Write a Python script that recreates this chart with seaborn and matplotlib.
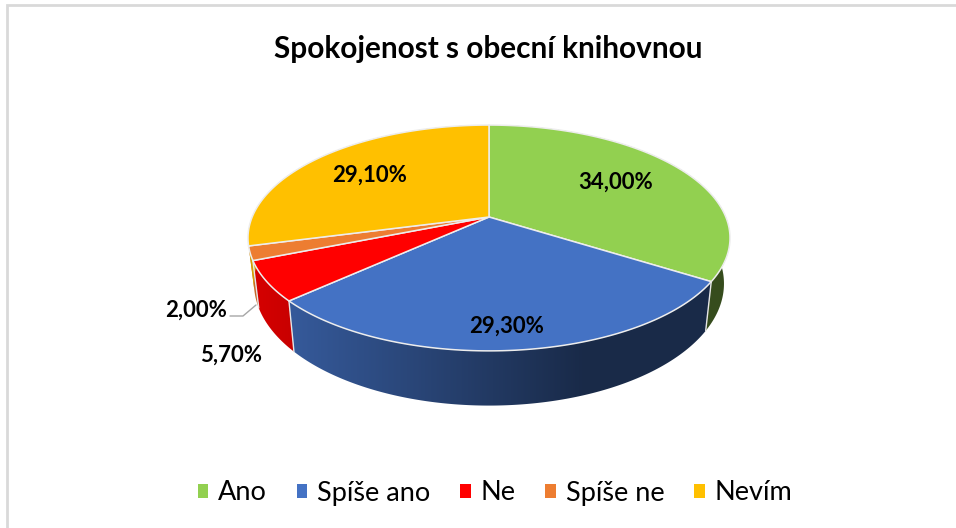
import numpy as np
import seaborn as sns
from matplotlib import pyplot as plt
from matplotlib.patches import Patch, Polygon

categories = ['Ano', 'Spíše ano', 'Ne', 'Spíše ne', 'Nevím']
values = [34.0, 29.3, 5.7, 2.0, 29.1]
value_labels = ['34,00%', '29,30%', '5,70%', '2,00%', '29,10%']
colors = ['#92D050', '#4472C4', '#FF0000', '#ED7D31', '#FFC000']

sns.set_theme(style='white')
plt.rcParams['font.family'] = ['Lato', 'DejaVu Sans']
palette = sns.color_palette(colors)

# pixel coordinates, it is easier to compare with the reference
fig = plt.figure(figsize=(9.56, 5.28), dpi=100)
ax = fig.add_axes([0, 0, 1, 1])
ax.axis('off')

# chart frame (only left and top are visible)
ax.plot([7, 7, 956], [528, 5, 5], color='#D9D9D9', lw=2, solid_joinstyle='miter')

# tilted disc : perspective projection of the unit circle
cx, cy = 489, 217
sx, sy, k = 236.8, 109, -0.1858


def top_xy(theta):
    u, v = np.sin(theta), np.cos(theta)
    d = 1 - k * v
    return sx * u / d, sy * v / d


def rim_xy(theta):
    x, y = top_xy(theta)
    return 0.975 * x, 1.08 * y - 44


def shade(x):
    return np.clip(0.84 - 0.47 * (x + 235) / 330, 0.37, 0.84)


edges = np.radians(np.concatenate([[0], np.cumsum(values)]) / np.sum(values) * 360)

# side wall : horizontal gradient clipped to the outline of each slice
grad_x = np.arange(-260, 261)
for i, col in enumerate(palette):
    t = np.linspace(edges[i], edges[i + 1], 200)
    x0, y0 = top_xy(t)
    x1, y1 = rim_xy(t)
    outline = np.column_stack([np.r_[cx + x0, cx + x1[::-1]], np.r_[cy - y0, cy - y1[::-1]]])
    wall = Polygon(outline, closed=True, fc='none', ec='none', transform=ax.transData)
    ax.add_patch(wall)
    img = shade(grad_x)[None, :, None] * np.array(col)[None, None, :]
    im = ax.imshow(img, extent=(cx - 260, cx + 260, 528, 0), aspect='auto',
                   interpolation='bilinear', zorder=2)
    im.set_clip_path(wall)

# light seams on the front of the wall
for e in edges[1:4]:
    x0, y0 = top_xy(e)
    x1, y1 = rim_xy(e)
    ax.plot([cx + x0, cx + x1], [cy - y0, cy - y1], color='#E6E6E6', lw=1, zorder=3)

# top face
for i, col in enumerate(palette):
    t = np.linspace(edges[i], edges[i + 1], 200)
    x, y = top_xy(t)
    pts = np.column_stack([np.r_[cx, cx + x], np.r_[cy, cy - y]])
    ax.add_patch(Polygon(pts, closed=True, fc=col, ec='#EDEDED', lw=1.1, zorder=4))

# data labels
label_x = [616, 507, 231, 196, 370]
label_y = [182, 326, 355, 310, 175]
for lab, lx, ly in zip(value_labels, label_x, label_y):
    ax.text(lx, ly, lab, ha='center', va='center', fontsize=16, fontweight='bold',
            color='black', zorder=6)

# leader line of the small slice
ax.plot([230, 243, 256], [316, 316, 305], color='#A6A6A6', lw=1, zorder=5)

ax.text(488, 49, 'Spokojenost s obecní knihovnou', ha='center', va='center',
        fontsize=21.4, fontweight='bold', color='black')

handles = [Patch(fc=c, ec='none', label=n) for c, n in zip(palette, categories)]
ax.legend(handles=handles, ncol=5, loc='center', bbox_to_anchor=(495 / 956, 1 - 493 / 528),
          frameon=False, fontsize=19.5, handlelength=0.39, handleheight=0.39,
          handletextpad=0.36, columnspacing=1.1, labelcolor='black')

ax.set_xlim(0, 956)
ax.set_ylim(528, 0)

fig.savefig('out.png', dpi=100)
